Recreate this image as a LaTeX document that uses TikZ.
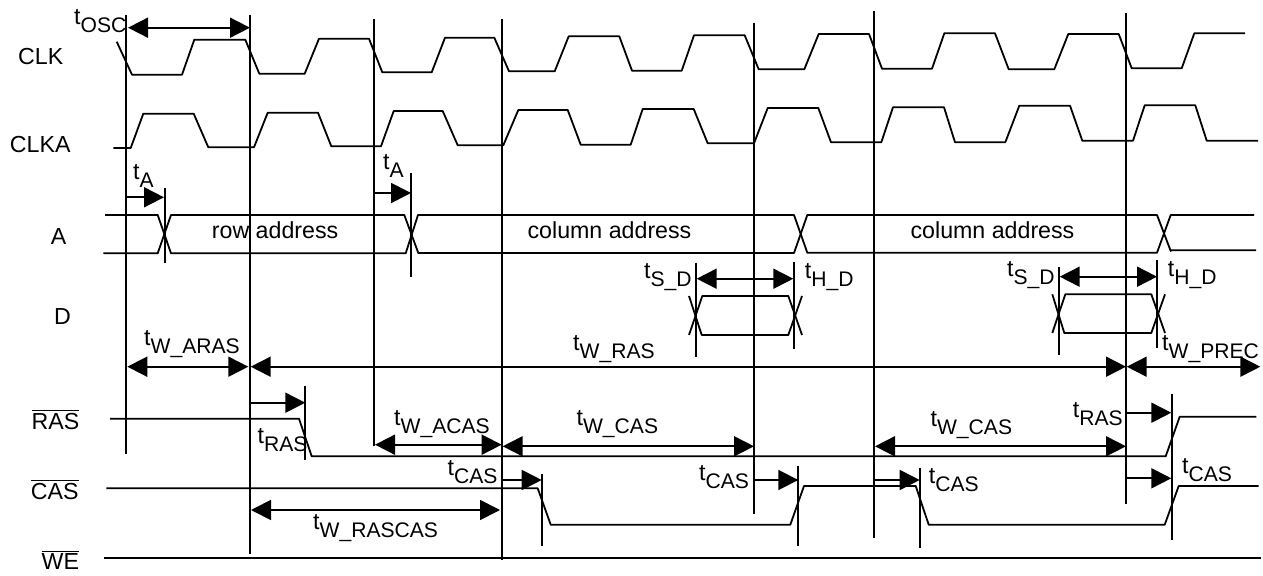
\documentclass[tikz,border=0pt]{standalone}
\usepackage{fontspec}
\setmainfont{Liberation Sans}
\usetikzlibrary{arrows.meta}
\newcommand{\tlab}[1]{t\raisebox{-4pt}{\fontsize{10.55}{12}\selectfont #1}}
\newcommand{\barsig}[1]{$\overline{\mbox{#1}}$}
\begin{document}
\begin{tikzpicture}[x=0.5pt,y=-0.5pt,line width=0.9pt,>={Triangle[length=10pt,width=10pt]},
		lbl/.style={anchor=base west,inner sep=0pt,font=\fontsize{11.6}{14}\selectfont},
		sig/.style={line width=0.9pt,line join=round}]
		\useasboundingbox (0,0) rectangle (1263,576);
		% clock edges
		\draw (126,15) -- (126,454);
		\draw (250.1,15) -- (250.1,554);
		\draw (374.1,19) -- (374.1,446);
		\draw (502,19) -- (502,560);
		\draw (754,23) -- (754,514);
		\draw (874.3,11) -- (874.3,538);
		\draw (1126,13) -- (1126,504);
		% signal names
		\node[lbl] (clk) at (17.3,65) {CLK};
		\node[lbl] (clka) at (9,152.7) {CLKA};
		\node[lbl] (a) at (50,245) {A};
		\node[lbl] (d) at (53.3,324.3) {D};
		\node[lbl] (ras) at (30.7,429.7) {\barsig{RAS}};
		\node[lbl] (cas) at (30,499.3) {\barsig{CAS}};
		\node[lbl] (we) at (40.7,569.7) {\barsig{WE}};
		% CLK
		\draw[sig] (116.7,41.7) -- (132,74.7) -- (182,74.7) -- (194.3,39.7) -- (245.3,39.7) -- (259.3,73.7) -- (304.7,73.7) -- (319,38.7) -- (369,38.7) -- (382.3,72.3) -- (431.7,72.3) -- (445,37.7) -- (494.3,37.7) -- (509,71.3) -- (554.7,71.3) -- (568.7,36.3) -- (619.3,36.3) -- (632,70.7) -- (681.7,70.7) -- (694,35.3) -- (744.7,35.3) -- (758.7,69.3) -- (804.3,69.3) -- (818.7,34) -- (869,34) -- (882,68.7) -- (932,68.7) -- (944.3,33.3) -- (995,33.3) -- (1008.7,69.3) -- (1054.3,69.3) -- (1068.3,34) -- (1118.7,34) -- (1131.7,68.3) -- (1181.7,68.3) -- (1194.3,33.3) -- (1245,33.3);
		% CLKA
		\draw[sig] (113.3,148) -- (130.7,148) -- (143.3,113.7) -- (193.7,113.7) -- (208.3,147.3) -- (254,147.3) -- (267.7,112.7) -- (318,112.7) -- (331.3,146.3) -- (381,146.3) -- (393.7,111) -- (442.7,111) -- (457.7,145.3) -- (503.3,145.3) -- (518.3,110) -- (567.7,110) -- (580.7,144.7) -- (630.7,144.7) -- (642.7,109) -- (693.7,109) -- (707.7,143.3) -- (754,143.3) -- (767.7,108) -- (818.3,108) -- (831,142.3) -- (881.3,142.3) -- (893,107.3) -- (944,107.3) -- (955,142.3) -- (1005.3,142.3) -- (1019.3,105.7) -- (1070,105.7) -- (1082.3,140.7) -- (1133,140.7) -- (1144.7,105.3) -- (1195.3,105.3) -- (1206.7,140.7) -- (1258,140.7);
		% A bus
		\draw[sig] (105,215) -- (157.7,215) -- (171,253.3) -- (405.7,253.3) -- (418,215) -- (794,215) -- (807.3,252.7) -- (1157,252.7) -- (1170.7,215) -- (1254,215);
		\draw[sig] (103.3,253.3) -- (157.7,253.3) -- (171,215) -- (404.3,215) -- (418.3,253) -- (794,253) -- (807.3,215) -- (1157,215) -- (1170.7,251) -- (1171,250.3) -- (1256,250.3);
		\node[lbl] (rowaddr) at (211,238.3) {row address};
		\node[lbl] (coladdr1) at (526.7,238.3) {column address};
		\node[lbl] (coladdr2) at (909.7,238.3) {column address};
		% D
		\draw[sig] (689,335) -- (702.3,296) -- (788.3,296) -- (802,335);
		\draw[sig] (689,296) -- (701.7,335) -- (788.3,335) -- (802,296);
		\draw[sig] (1052.3,333) -- (1065.3,294.3) -- (1151.3,294.3) -- (1165,333);
		\draw[sig] (1052.3,294.3) -- (1064.3,333) -- (1151.3,333) -- (1165,294.3);
		% RAS, CAS, WE
		\draw[sig] (110,418.7) -- (299,418.7) -- (311.7,456.3) -- (1165.7,456.3) -- (1179.7,416.7) -- (1256.3,416.7);
		\draw[sig] (106.3,488.3) -- (537.7,488.3) -- (550.7,524.7) -- (790.3,524.7) -- (804,486) -- (915.7,486) -- (928.7,524.7) -- (1164.7,524.7) -- (1178.7,486) -- (1258.7,486);
		\draw[line width=1.1pt] (104.3,558) -- (1261.3,558);
		% ticks
		\draw (164.7,188) -- (164.7,263);
		\draw (411,173) -- (411,277);
		\draw (695.7,262.7) -- (695.7,357);
		\draw (794,262) -- (794,348.7);
		\draw (1059,267) -- (1059,355);
		\draw (1157,260) -- (1157,347.7);
		\draw (305.3,386) -- (305.3,460.3);
		\draw (542.3,473.7) -- (542.3,546.3);
		\draw (797.7,466) -- (797.7,546.3);
		\draw (920,467.7) -- (920,548.3);
		\draw (1172,393.7) -- (1172,540.3);
		% arrows
		\draw[<->] (128,27.7) -- (250,27.7);
		\draw[->] (126,197.3) -- (164,197.3);
		\draw[->] (374.1,193) -- (411,193);
		\draw[<->] (696.7,278.7) -- (793.3,278.7);
		\draw[<->] (1059.7,276.7) -- (1157,276.7);
		\draw[<->] (127.3,366.7) -- (248.3,366.7);
		\draw[<->] (250.7,366.7) -- (1126,366.7);
		\draw[<->] (1126.7,366.7) -- (1260.3,366.7);
		\draw[->] (250.1,402.7) -- (305.3,402.7);
		\draw[<->] (375,444.7) -- (501.7,444.7);
		\draw[<->] (502.7,446.3) -- (754,446.3);
		\draw[<->] (875,446.3) -- (1126,446.3);
		\draw[<->] (251,510) -- (500,510);
		\draw[->] (502,480) -- (541.7,480);
		\draw[->] (754,480) -- (798.3,480);
		\draw[->] (874.3,480) -- (919.7,480);
		\draw[->] (1126,412.7) -- (1171.3,412.7);
		\draw[->] (1126,478.3) -- (1171.3,478.3);
		% timing labels
		\node[lbl] (tosc) at (73.3,25) {\tlab{OSC}};
		\node[lbl] (ta1) at (132.3,180) {\tlab{A}};
		\node[lbl] (ta2) at (382.3,170) {\tlab{A}};
		\node[lbl] (tsd1) at (643.3,278.3) {\tlab{S\_D}};
		\node[lbl] (thd1) at (804,278.3) {\tlab{H\_D}};
		\node[lbl] (tsd2) at (1006.3,276.7) {\tlab{S\_D}};
		\node[lbl] (thd2) at (1167,276.7) {\tlab{H\_D}};
		\node[lbl] (twaras) at (143.3,345.3) {\tlab{W\_ARAS}};
		\node[lbl] (twras) at (572.3,350.3) {\tlab{W\_RAS}};
		\node[lbl] (twprec) at (1161.3,351) {\tlab{W\_PREC}};
		\node[lbl] (tras1) at (256.7,443.3) {\tlab{RAS}};
		\node[lbl] (twacas) at (393.3,425.3) {\tlab{W\_ACAS}};
		\node[lbl] (twcas1) at (575.7,426) {\tlab{W\_CAS}};
		\node[lbl] (twcas2) at (929.7,426.7) {\tlab{W\_CAS}};
		\node[lbl] (tcas1) at (446.7,475.3) {\tlab{CAS}};
		\node[lbl] (tcas2) at (698.3,481) {\tlab{CAS}};
		\node[lbl] (tcas3) at (928,483.7) {\tlab{CAS}};
		\node[lbl] (tcas4) at (1181.3,473.7) {\tlab{CAS}};
		\node[lbl] (tras2) at (1072,417.7) {\tlab{RAS}};
		\node[lbl] (twrascas) at (312.3,529.3) {\tlab{W\_RASCAS}};
\end{tikzpicture}
\end{document}
